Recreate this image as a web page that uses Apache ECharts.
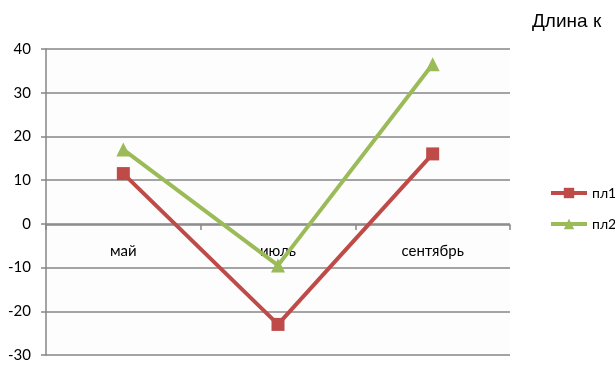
<!DOCTYPE html>
<html>
<head>
	<meta charset="utf-8">
	<title>Длина</title>
	<script src="https://cdn.jsdelivr.net/npm/echarts@6/dist/echarts.min.js"></script>
	<style>
		body { margin: 0; background: #fff; }
	</style>
</head>
<body>
	<div id="container" style="width: 615px;height:367px;"></div>
	<script type="text/javascript">
		var months = ['май', 'июль', 'сентябрь'];
		var pl1 = [11.5, -23, 16];
		var pl2 = [17, -9.5, 36.5];
		var yTicks = { min: -30, max: 40, step: 10 };

		var myChart = echarts.init(document.getElementById('container'));
		myChart.setOption({
			animation: false,
			title: {
				text: 'Длина к',
				left: 527,
				top: 7,
				textStyle: { fontFamily: 'Liberation Sans', fontSize: 19, fontWeight: 'normal', color: '#000' }
			},
			legend: {
				orient: 'vertical',
				left: 544,
				top: 181,
				itemWidth: 36,
				itemHeight: 13,
				itemGap: 17,
				lineStyle: { width: 4 },
				textStyle: { fontFamily: 'Lato', fontSize: 14, color: '#000' },
				data: ['пл1', 'пл2']
			},
			grid: {
				left: 46, right: 105, top: 49, bottom: 12,
				outerBoundsMode: 'none',
				show: true, backgroundColor: '#fdfdfd', borderWidth: 0
			},
			xAxis: {
				type: 'category',
				data: months,
				boundaryGap: true,
				// подписи у нулевой линии, как в Excel
				offset: -130,
				axisLine: { onZero: false, lineStyle: { color: '#868686', width: 1.5 } },
				axisTick: { show: true, inside: false, length: 5, lineStyle: { color: '#868686', width: 1.5 } },
				axisLabel: { margin: 19, fontFamily: 'Lato', fontSize: 15, color: '#000' },
				splitLine: { show: false }
			},
			yAxis: {
				type: 'value',
				min: yTicks.min,
				max: yTicks.max,
				interval: yTicks.step,
				axisLine: { show: true, lineStyle: { color: '#868686', width: 1.5 } },
				axisTick: { show: true, length: 5, lineStyle: { color: '#868686', width: 1.5 } },
				axisLabel: { margin: 15, fontFamily: 'Lato', fontSize: 15, color: '#000' },
				splitLine: { lineStyle: { color: '#868686', width: 1.5 } }
			},
			series: [
				{
					name: 'пл1',
					type: 'line',
					data: pl1,
					symbol: 'rect',
					symbolSize: 13,
					itemStyle: { color: '#BE4B48' },
					lineStyle: { color: '#BE4B48', width: 4 }
				},
				{
					name: 'пл2',
					type: 'line',
					data: pl2,
					symbol: 'triangle',
					symbolSize: 14,
					itemStyle: { color: '#9BBB59' },
					lineStyle: { color: '#9BBB59', width: 4 }
				}
			]
		});
	</script>
</body>
</html>
